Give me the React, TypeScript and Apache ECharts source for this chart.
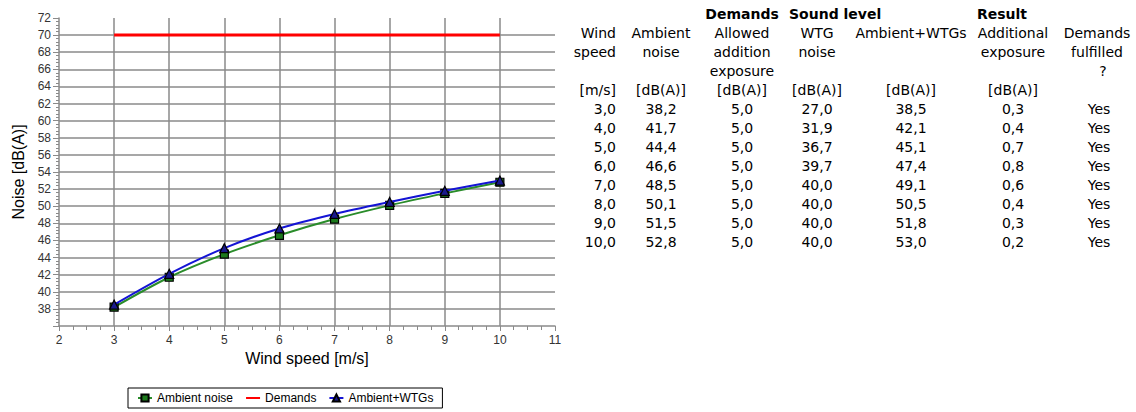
import React, { useEffect, useRef } from "react";
import * as echarts from "echarts";

// ---- data ----
const windSpeeds = [3, 4, 5, 6, 7, 8, 9, 10];
const ambientNoise = [38.2, 41.7, 44.4, 46.6, 48.5, 50.1, 51.5, 52.8];
const demandLevel = [70, 70, 70, 70, 70, 70, 70, 70];
const allowedExposure = [5.0, 5.0, 5.0, 5.0, 5.0, 5.0, 5.0, 5.0];
const wtgNoise = [27.0, 31.9, 36.7, 39.7, 40.0, 40.0, 40.0, 40.0];
const ambientPlusWtg = [38.5, 42.1, 45.1, 47.4, 49.1, 50.5, 51.8, 53.0];
const additionalExposure = [0.3, 0.4, 0.7, 0.8, 0.6, 0.4, 0.3, 0.2];
const demandsFulfilled = ["Yes", "Yes", "Yes", "Yes", "Yes", "Yes", "Yes", "Yes"];

const groupHeaders = ["Demands", "Sound level", "Result"];
const columnHeaders = [
  ["Wind", "speed", "", "[m/s]"],
  ["Ambient", "noise", "", "[dB(A)]"],
  ["Allowed", "addition", "exposure", "[dB(A)]"],
  ["WTG", "noise", "", "[dB(A)]"],
  ["Ambient+WTGs", "", "", "[dB(A)]"],
  ["Additional", "exposure", "", "[dB(A)]"],
  ["Demands", "fulfilled", "?", ""],
];

const fmt = (v: number) => v.toFixed(1).replace(".", ",");

const TABLE_FONT = "'DejaVu Sans', Verdana, sans-serif";
const CHART_FONT = "'Liberation Sans', Arial, sans-serif";

export default function App() {
  const ref = useRef<HTMLDivElement>(null);
  useEffect(() => {
    document.body.style.margin = "0";
    const chart = echarts.init(ref.current!, null, { renderer: "svg" });

    // table layout (positions only)
    const colX = [616, 661, 742, 817, 911, 1013, 1097];
    const colAlign: any[] = ["right", "center", "center", "center", "center", "center", "center"];
    const headerY = [33, 52, 71, 90];
    const rowY0 = 109;
    const rowH = 19;
    const fontSize = 14;

    const texts: any[] = [];
    const addText = (x: number, y: number, t: string, align: string, bold = false) => {
      if (!t) return;
      texts.push({
        type: "text",
        x,
        y,
        style: {
          text: t,
          fill: "#000",
          font: `${bold ? "bold " : ""}${fontSize}px ${TABLE_FONT}`,
          textAlign: align,
          textVerticalAlign: "middle",
        },
      });
    };
    addText(742, 14, groupHeaders[0], "center", true);
    addText(789, 14, groupHeaders[1], "left", true);
    addText(977, 14, groupHeaders[2], "left", true);
    columnHeaders.forEach((lines, c) => {
      lines.forEach((t, r) => {
        const x = t === "?" ? colX[c] + 6 : colX[c];
        addText(x, headerY[r], t, colAlign[c]);
      });
    });
    const cols = [
      windSpeeds.map(fmt),
      ambientNoise.map(fmt),
      allowedExposure.map(fmt),
      wtgNoise.map(fmt),
      ambientPlusWtg.map(fmt),
      additionalExposure.map(fmt),
      demandsFulfilled,
    ];
    cols.forEach((vals, c) => {
      vals.forEach((t, r) =>
        addText(colX[c] + (c === 6 ? 2 : 0), rowY0 + r * rowH, t, colAlign[c])
      );
    });

    const gridColor = "#8a8a8a";
    chart.setOption({
      animation: false,
      textStyle: { fontFamily: CHART_FONT },
      grid: { left: 59, right: 581, top: 18, bottom: 86, containLabel: false },
      legend: {
        left: 128,
        top: 388,
        itemWidth: 14,
        itemHeight: 9,
        itemGap: 12,
        padding: [4, 9, 4, 9],
        borderColor: "#000",
        borderWidth: 1,
        textStyle: { fontSize: 12, color: "#000", fontFamily: CHART_FONT },
        data: [
          { name: "Ambient noise" },
          { name: "Demands", itemStyle: { opacity: 0 } },
          { name: "Ambient+WTGs" },
        ],
      },
      xAxis: {
        type: "value",
        min: 2,
        max: 11,
        interval: 1,
        name: "Wind speed [m/s]",
        nameLocation: "middle",
        nameGap: 23,
        nameTextStyle: { fontSize: 16, color: "#000", fontFamily: CHART_FONT },
        axisLine: { lineStyle: { color: gridColor, width: 1.5 } },
        axisTick: { length: 5, lineStyle: { color: gridColor } },
        minorTick: { show: true, splitNumber: 4, length: 4, lineStyle: { color: gridColor } },
        axisLabel: { fontSize: 12, color: "#333", margin: 8 },
        splitLine: {
          show: true,
          showMinLine: false,
          showMaxLine: false,
          lineStyle: { color: gridColor, width: 1.5 },
        },
      },
      yAxis: {
        type: "value",
        min: 36,
        max: 72,
        interval: 2,
        name: "Noise [dB(A)]",
        nameLocation: "middle",
        nameGap: 33,
        nameTextStyle: { fontSize: 16, color: "#000", fontFamily: CHART_FONT },
        axisLine: { show: true, lineStyle: { color: gridColor, width: 1.5 } },
        axisTick: { show: true, length: 6, lineStyle: { color: gridColor } },
        minorTick: { show: true, splitNumber: 5, length: 3, lineStyle: { color: gridColor } },
        axisLabel: {
          fontSize: 12,
          color: "#333",
          margin: 8,
          formatter: (v: number) => (v === 36 ? "" : String(v)),
        },
        splitLine: {
          show: true,
          showMinLine: false,
          showMaxLine: false,
          lineStyle: { color: gridColor, width: 1.5 },
        },
      },
      series: [
        {
          name: "Ambient noise",
          type: "line",
          smooth: 0.3,
          data: windSpeeds.map((x, i) => [x, ambientNoise[i]]),
          symbol: "rect",
          symbolSize: 8,
          itemStyle: { color: "#1c7a1c", borderColor: "#000", borderWidth: 1.2 },
          lineStyle: { color: "#2a8c2a", width: 2 },
          z: 3,
        },
        {
          name: "Demands",
          type: "line",
          data: windSpeeds.map((x, i) => [x, demandLevel[i]]),
          symbol: "none",
          itemStyle: { color: "#ff0000" },
          lineStyle: { color: "#ff0000", width: 3 },
          z: 2,
        },
        {
          name: "Ambient+WTGs",
          type: "line",
          smooth: 0.3,
          data: windSpeeds.map((x, i) => [x, ambientPlusWtg[i]]),
          symbol: "triangle",
          symbolSize: 9,
          itemStyle: { color: "#1a1a8c", borderColor: "#000", borderWidth: 1.2 },
          lineStyle: { color: "#1414d4", width: 2 },
          z: 4,
        },
      ],
      graphic: texts,
    });
    return () => chart.dispose();
  }, []);
  return (
    <div
      ref={ref}
      style={{ position: "fixed", left: 0, top: 0, width: 1136, height: 412, background: "#fff" }}
    />
  );
}
